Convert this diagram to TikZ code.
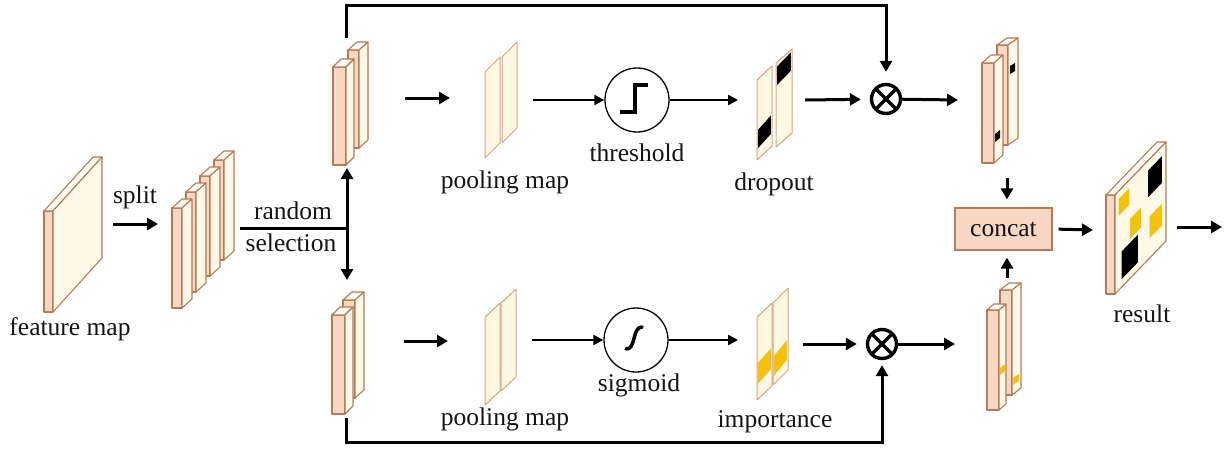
\documentclass[tikz,border=0pt]{standalone}
\usepackage{fontspec}
\setmainfont{Liberation Serif}
\newfontfamily\labelfont{Liberation Serif}
\usetikzlibrary{arrows.meta}

\definecolor{edge}{HTML}{B87A55}
\definecolor{front}{HTML}{F8D8C4}
\definecolor{side}{HTML}{FFFAE8}
\definecolor{topc}{HTML}{FFFDF5}
\definecolor{sheetfill}{HTML}{FEF7E2}
\definecolor{sheetedge}{HTML}{D6A383}
\definecolor{gold}{HTML}{F4C20D}
\definecolor{ink}{HTML}{141414}

\tikzset{
  slabline/.style={draw=edge, line width=1.1pt, line join=round},
  arr/.style={line width=3pt, -{Triangle[length=11pt,width=12pt]}},
  thinarr/.style={line width=2.3pt, -{Triangle[length=10pt,width=10pt]}},
  lbl/.style={font=\labelfont\fontsize{25.5}{30}\selectfont, inner sep=0pt, text=ink},
  func/.style={circle, draw, line width=1.3pt, minimum size=64pt, inner sep=0pt},
  otimes/.style={circle, draw, line width=3.4pt, minimum size=29pt, inner sep=0pt,
    path picture={\draw[line width=3.4pt]
      (path picture bounding box.north west) -- (path picture bounding box.south east)
      (path picture bounding box.north east) -- (path picture bounding box.south west);}},
}

% 3-D slab: left, top, width, height, depth dx, depth rise
\newcommand{\slab}[6]{%
  \filldraw[slabline, fill=front] (#1,#2) rectangle ++(#3,#4);
  \filldraw[slabline, fill=topc] (#1,#2) -- ++(#5,-#6) -- ++(#3,0) -- ++(-#5,#6) -- cycle;
  \filldraw[slabline, fill=side] ({#1+#3},#2) -- ++(#5,-#6) -- ++(0,#4) -- ++(-#5,#6) -- cycle;
}
% flat sheet: left, bottom, width, height, skew
\newcommand{\sheet}[5]{%
  \filldraw[draw=sheetedge, fill=sheetfill, line width=1pt, line join=round]
    (#1,#2) -- ++(0,-#4) -- ++(#3,-#5) -- ++(0,#4) -- cycle;}
% coloured band on a sheet: left, bottom, width, height, skew, from, to, colour
\newcommand{\sheetband}[8]{%
  \fill[#8] ({#1+1.2},{#2-#6*#4}) -- ++({#3-2.4},-#5) -- ({#1+#3-1.2},{#2-#5-#7*#4})
    -- ({#1+1.2},{#2-#7*#4}) -- cycle;}
% patch on the face of the result map: u0, u1, v0, v1, colour
\newcommand{\rpatch}[5]{%
  \fill[#5] ({1115+#1*51},{294-#3*99-#1*53}) -- ({1115+#2*51},{294-#3*99-#2*53})
    -- ({1115+#2*51},{294-#4*99-#2*53}) -- ({1115+#1*51},{294-#4*99-#1*53}) -- cycle;}

\begin{document}
\begin{tikzpicture}[x=1pt,y=-1pt]
\useasboundingbox (0,0) rectangle (1227,448);

% input feature map
\slab{44}{211}{9}{101}{49}{54}
\node[lbl, anchor=base] (fmlab) at (70,335) {feature map};

% split into groups
\slab{214}{160}{10}{100}{10}{9}
\slab{200}{176}{10}{100}{10}{9}
\slab{186}{192}{10}{100}{10}{9}
\slab{172}{208}{10}{100}{10}{9}
\node[lbl, anchor=base] (splitlab) at (135,203) {split};
\coordinate (splitS) at (113,224);
\coordinate (splitE) at (158,224);
\draw[arr] (splitS) -- (splitE);

% random selection
\coordinate (rsS) at (240,228);
\coordinate (rsJ) at (347,228);
\coordinate (rsUp) at (347,168);
\coordinate (rsDn) at (347,280);
\draw[line width=3pt] (rsS) -- (rsJ);
\draw[line width=3pt, {Triangle[length=11pt,width=12pt]}-{Triangle[length=11pt,width=12pt]}] (rsUp) -- (rsDn);
\node[lbl, anchor=base] (rslab1) at (293,219) {random};
\node[lbl, anchor=base] (rslab2) at (291,251) {selection};

% selected groups
\slab{348}{50}{11}{98}{9}{8}
\slab{333}{67}{13}{98}{8}{8}
\slab{343}{300}{12}{98}{9}{8}
\slab{332}{315}{13}{99}{8}{8}

% pooling maps
\sheet{502}{143}{15}{86}{15}
\sheet{485}{158}{15}{86}{15}
\sheet{501}{391}{15}{88}{14}
\sheet{485}{405}{15}{88}{14}
\node[lbl, anchor=base] (pool1) at (505,188) {pooling map};
\node[lbl, anchor=base] (pool2) at (505,425) {pooling map};
\coordinate (g1S) at (405,98);  \coordinate (g1E) at (450,98);
\coordinate (g2S) at (404,341); \coordinate (g2E) at (448,341);
\draw[arr] (g1S) -- (g1E);
\draw[arr] (g2S) -- (g2E);

% threshold and sigmoid
\node[func] (th) at (637,100) {};
\node[func] (sg) at (636,340) {};
\draw[line width=3.5pt] ([shift={(-17,12)}]th.center) -- ++(15,0) -- ++(0,-27) -- ++(13,0);
\draw[line width=3.5pt, line cap=round] ([shift={(-10,9)}]sg.center)
  .. controls ([shift={(0,10)}]sg.center) and ([shift={(-4,-13)}]sg.center) .. ([shift={(6,-13)}]sg.center);
\node[lbl, anchor=base] (thlab) at (637,161) {threshold};
\node[lbl, anchor=base] (sglab) at (639,391) {sigmoid};
\coordinate (p1) at (533,100);
\coordinate (p2) at (532,340);
\coordinate (d1) at (738,100);
\coordinate (d2) at (738,340);
\draw[thinarr] (p1) -- (th);
\draw[thinarr] (th) -- (d1);
\draw[thinarr] (p2) -- (sg);
\draw[thinarr] (sg) -- (d2);

% dropout mask
\sheet{757}{160}{15}{80}{14}
\sheet{776}{147}{16}{84}{14}
\sheetband{757}{160}{15}{80}{14}{0.15}{0.38}{black}
\sheetband{776}{147}{16}{84}{14}{0.74}{0.96}{black}
\node[lbl, anchor=base] (droplab) at (774,190) {dropout};

% importance map
\sheet{757}{400}{15}{83}{14}
\sheet{773}{385}{15}{82}{15}
\sheetband{757}{400}{15}{83}{14}{0.2}{0.45}{gold}
\sheetband{773}{385}{15}{82}{15}{0.12}{0.36}{gold}
\node[lbl, anchor=base] (implab) at (775,427) {importance};

% element-wise products
\node[otimes] (ot1) at (886,99) {};
\node[otimes] (ot2) at (882,344) {};
\coordinate (dr) at (805,100);
\coordinate (im) at (803,344);
\draw[arr, shorten >=9pt] (dr) -- (ot1);
\draw[arr, shorten >=9pt] (im) -- (ot2);
\coordinate (upS) at (346,38);
\coordinate (upC) at (600,5);
\coordinate (dnS) at (346,418);
\coordinate (dnC) at (600,442);
\draw[arr, shorten >=11pt] (upS) |- (upC) -| (ot1);
\draw[arr, shorten >=5pt] (dnS) |- (dnC) -| (ot2);
\coordinate (o1) at (958,100);
\coordinate (o2) at (955,344);
\draw[arr] (ot1) -- (o1);
\draw[arr] (ot2) -- (o2);

% reweighted groups
\slab{997}{45}{11}{100}{10}{7}
\slab{982}{63}{12}{100}{9}{8}
\fill[black] (1010,66) -- ++(5,-3) -- ++(0,8) -- ++(-5,3) -- cycle;
\fill[black] (995,134) -- ++(5,-4) -- ++(0,8) -- ++(-5,4) -- cycle;
\slab{1000}{290}{12}{105}{9}{7}
\slab{987}{310}{12}{100}{7}{6}
\fill[gold] (1013,378) -- ++(6,-4) -- ++(0,7) -- ++(-6,4) -- cycle;
\fill[gold] (1000,368) -- ++(5,-4) -- ++(0,7) -- ++(-5,4) -- cycle;

% concatenation
\node[lbl, draw=edge, fill=front, line width=1.2pt, minimum width=97pt, minimum height=42pt] (cc) at (1003.5,229) {concat};
\coordinate (ctop) at (1007,178);
\coordinate (cbot) at (1007,278);
\draw[arr, shorten >=8pt] (ctop) -- (ctop |- cc.north);
\draw[arr, shorten >=7pt] (cbot) -- (cbot |- cc.south);

% result
\slab{1106}{195}{9}{99}{51}{53}
\rpatch{0.07}{0.28}{0.75}{0.92}{gold}
\rpatch{0.65}{0.92}{0.63}{0.90}{black}
\rpatch{0.29}{0.51}{0.40}{0.60}{gold}
\rpatch{0.68}{0.92}{0.20}{0.42}{gold}
\rpatch{0.13}{0.45}{0.08}{0.36}{black}
\node[lbl, anchor=base] (reslab) at (1142,322) {result};
\coordinate (resin) at (1093,230);
\coordinate (outS) at (1177,227);
\coordinate (outE) at (1222,227);
\draw[arr, shorten <=6pt] (cc.east) -- (resin);
\draw[arr] (outS) -- (outE);
\end{tikzpicture}
\end{document}
